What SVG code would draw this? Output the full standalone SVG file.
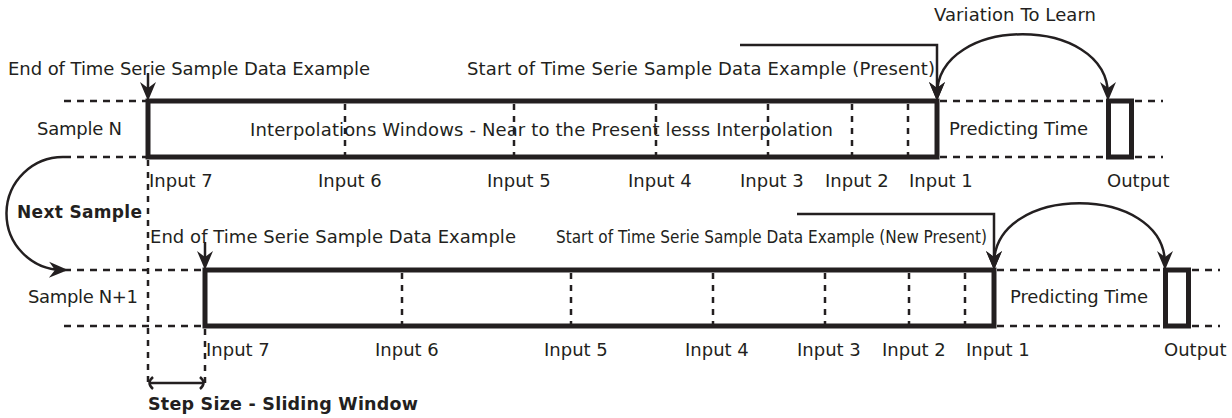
<svg xmlns="http://www.w3.org/2000/svg" width="1232" height="418" viewBox="0 0 1232 418">
<style>
text{font-family:"DejaVu Sans","Liberation Sans",sans-serif;font-size:18px;fill:#231f20}
.b{font-weight:bold;font-size:17px}
.frame{fill:none;stroke:#231f20;stroke-width:5}
.div{stroke:#231f20;stroke-width:2.5;stroke-dasharray:6 6;fill:none}
.dash{stroke:#231f20;stroke-width:2.5;stroke-dasharray:7 6;fill:none}
.con{stroke:#231f20;stroke-width:2.5;fill:none}
</style>
<defs>
<marker id="ah" markerUnits="userSpaceOnUse" viewBox="-20 -9 21 18" markerWidth="21" markerHeight="18" refX="-6" refY="0" orient="auto-start-reverse">
<path d="M0,0 L-19,-8 L-13,0 L-19,8 Z" fill="#231f20"/>
</marker>
</defs>
<rect width="1232" height="418" fill="#fff"/>

<g id="guides">
<path class="dash" d="M64 101H146M64 157H146M940 101H1163M940 157H1163"/>
<path class="dash" d="M64 270H203M64 326H203M997 270H1220M997 326H1220"/>
<path class="div" d="M148 160V387M205 329V387"/>
</g>

<g id="sample-n">
<rect class="frame" x="148" y="101" width="789" height="56"/>
<path class="div" d="M345 104V155M514 104V155M656 104V155M768 104V155M852 104V155M908 104V155"/>
<rect class="frame" x="1108.5" y="101" width="23" height="56"/>
<text x="37" y="135" textLength="85">Sample N</text>
<text x="250" y="136" textLength="583">Interpolations Windows - Near to the Present lesss Interpolation</text>
<text x="949" y="135" textLength="139">Predicting Time</text>
<text x="149" y="187">Input 7</text>
<text x="318" y="187">Input 6</text>
<text x="487" y="187">Input 5</text>
<text x="628" y="187">Input 4</text>
<text x="740" y="187">Input 3</text>
<text x="825" y="187">Input 2</text>
<text x="909" y="187">Input 1</text>
<text x="1107" y="187">Output</text>
<text x="8" y="75" textLength="362">End of Time Serie Sample Data Example</text>
<text x="467" y="75" textLength="468">Start of Time Serie Sample Data Example (Present)</text>
<text x="934" y="21" textLength="162">Variation To Learn</text>
</g>

<g id="sample-n1">
<rect class="frame" x="205" y="270" width="789" height="56"/>
<path class="div" d="M402 273V324M571 273V324M713 273V324M825 273V324M909 273V324M965 273V324"/>
<rect class="frame" x="1165.5" y="270" width="23" height="56"/>
<text x="28" y="303" textLength="110">Sample N+1</text>
<text x="1010" y="303" textLength="138">Predicting Time</text>
<text x="206" y="356">Input 7</text>
<text x="375" y="356">Input 6</text>
<text x="544" y="356">Input 5</text>
<text x="685" y="356">Input 4</text>
<text x="797" y="356">Input 3</text>
<text x="882" y="356">Input 2</text>
<text x="966" y="356">Input 1</text>
<text x="1164" y="356">Output</text>
<text x="150" y="243" textLength="366">End of Time Serie Sample Data Example</text>
<text x="556" y="243" textLength="431" lengthAdjust="spacingAndGlyphs">Start of Time Serie Sample Data Example (New Present)</text>
</g>

<g id="labels">
<text class="b" x="17" y="218" textLength="125">Next Sample</text>
<text class="b" x="148" y="410" textLength="270" style="font-size:17.5px">Step Size - Sliding Window</text>
</g>

<g id="connectors">
<path class="con" d="M148 73V95" marker-end="url(#ah)"/>
<path class="con" d="M740 45H937V95" marker-end="url(#ah)"/>
<path class="con" d="M937 95C937 14 1108 14 1108 95" marker-start="url(#ah)" marker-end="url(#ah)"/>
<path class="con" d="M205 242V264" marker-end="url(#ah)"/>
<path class="con" d="M797 214H994V264" marker-end="url(#ah)"/>
<path class="con" d="M994 264C994 183 1165 183 1165 264" marker-start="url(#ah)" marker-end="url(#ah)"/>
<path class="con" d="M64 157A56.5 56.5 0 0 0 62 270" marker-end="url(#ah)"/>
<path class="con" d="M149 383H204M153 377Q146 383 153 389M200 377Q207 383 200 389"/>
</g>
</svg>
